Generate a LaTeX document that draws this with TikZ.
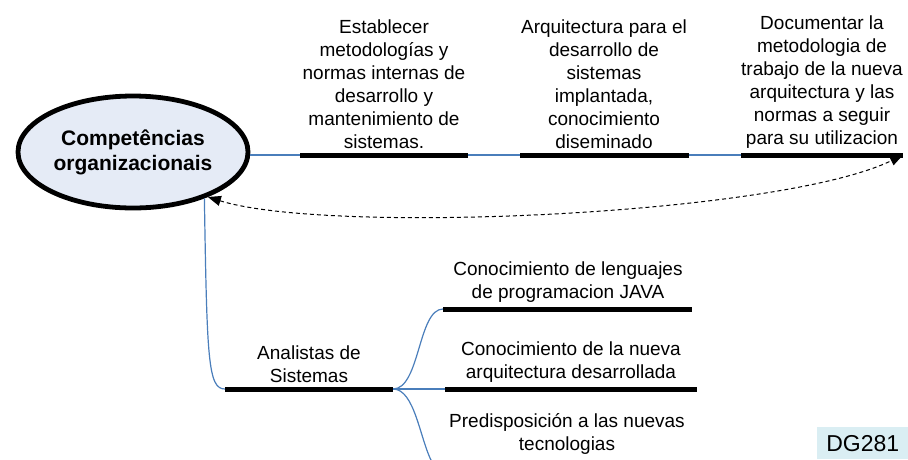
\documentclass[tikz,border=0pt]{standalone}
\usepackage{fontspec}
\setmainfont{Liberation Sans}
\usetikzlibrary{shapes.geometric,arrows.meta}
\definecolor{conn}{HTML}{4A7EBB}
\definecolor{ellfill}{HTML}{E5EBF6}
\definecolor{dgfill}{HTML}{DAEEF3}
\begin{document}
\begin{tikzpicture}[x=1pt,y=-1pt,
  lbl/.style={font=\fontsize{19}{23}\selectfont, align=center, inner sep=0pt},
  bar/.style={line width=5pt},
  link/.style={conn, line width=1.2pt},
  feedback/.style={dash pattern=on 4pt off 3pt, line width=1pt,
     arrows={Triangle[length=13pt,width=10pt]-Triangle[length=13pt,width=10pt]}}]
\useasboundingbox (0,0) rectangle (908,459);
% central ellipse
\node[ellipse, draw, line width=4.8pt, fill=ellfill, minimum width=230pt,
  minimum height=112pt, inner sep=0pt, align=center,
  font=\bfseries\fontsize{21}{25}\selectfont] (E) at (133,152)
  {Competências\\organizacionais};
% top line
\coordinate (b1s) at (300,155); \coordinate (b1e) at (468,155);
\coordinate (b2s) at (520,155); \coordinate (b2e) at (689,155);
\coordinate (b3s) at (741,155); \coordinate (b3e) at (903,155);
\draw[link] (E.east |- b1s) -- (b1s);
\draw[link] (b1e) -- (b2s);
\draw[link] (b2e) -- (b3s);
\draw[bar] (b1s) -- (b1e);
\draw[bar] (b2s) -- (b2e);
\draw[bar] (b3s) -- (b3e);
\node[lbl, anchor=south] (t1) at (384,149) {Establecer\\metodologías y\\normas internas de\\desarrollo y\\mantenimiento de\\sistemas.};
\node[lbl, anchor=south] (t2) at (604,149) {Arquitectura para el\\desarrollo de\\sistemas\\implantada,\\conocimiento\\diseminado};
\node[lbl, anchor=south] (t3) at (822,149) {Documentar la\\metodologia de\\trabajo de la nueva\\arquitectura y las\\normas a seguir\\para su utilizacion};
% feedback dashed arrow
\draw[feedback] (E.-31) .. controls (330,235) and (780,215) .. (b3e);
% lower branch
\coordinate (a1s) at (225,389); \coordinate (a1e) at (393,389);
\coordinate (c1s) at (443,309); \coordinate (c1e) at (692,309);
\coordinate (c2s) at (445,389); \coordinate (c2e) at (697,389);
\coordinate (c3s) at (432,462);
\draw[link] (E.-33) .. controls (207,360) and (208,389) .. (a1s);
\draw[link] (a1e) .. controls (420,389) and (418,309) .. (c1s);
\draw[link] (a1e) -- (c2s);
\draw[link] (a1e) .. controls (415,389) and (420,440) .. (c3s);
\draw[bar] (a1s) -- (a1e);
\draw[bar] (c1s) -- (c1e);
\draw[bar] (c2s) -- (c2e);
\node[lbl, anchor=south] (ta) at (309,383) {Analistas de\\Sistemas};
\node[lbl, anchor=south] (tc1) at (568,303) {Conocimiento de lenguajes\\de programacion JAVA};
\node[lbl, anchor=south] (tc2) at (571,383) {Conocimiento de la nueva\\arquitectura desarrollada};
\node[lbl, anchor=north] (tc3) at (567,413) {Predisposición a las nuevas\\tecnologias};
% label box
\node[fill=dgfill, minimum width=91pt, minimum height=32pt, anchor=north west,
  inner sep=0pt, font=\fontsize{23}{25}\selectfont] (dg) at (817,427) {DG281};
\end{tikzpicture}
\end{document}
